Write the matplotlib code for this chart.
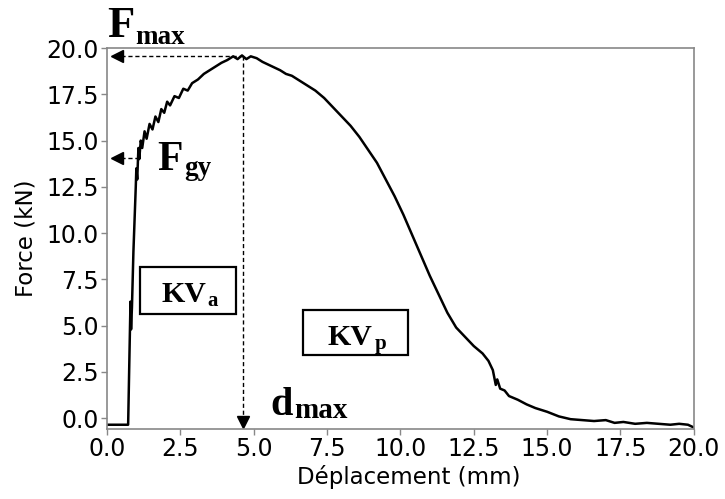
import matplotlib
matplotlib.use("Agg")
import matplotlib.pyplot as plt
from matplotlib.patches import Rectangle

# ---- data ----
disp = [0.0, 0.72, 0.76, 0.80, 0.82, 0.85, 0.90, 0.98, 1.00, 1.03, 1.07, 1.10, 1.15, 1.20,
        1.28, 1.35, 1.45, 1.55, 1.65, 1.75, 1.85, 1.95, 2.05, 2.15, 2.30, 2.45, 2.60, 2.75,
        2.90, 3.10, 3.30, 3.50, 3.70, 3.90, 4.10, 4.30, 4.45, 4.60, 4.75, 4.90, 5.10, 5.30,
        5.50, 5.70, 5.90, 6.10, 6.30, 6.50, 6.80, 7.10, 7.40, 7.70, 8.00, 8.30, 8.60, 8.90,
        9.20, 9.50, 9.80, 10.10, 10.40, 10.70, 11.00, 11.30, 11.60, 11.90, 12.20, 12.50,
        12.80, 13.00, 13.15, 13.25, 13.30, 13.40, 13.55, 13.70, 14.00, 14.30, 14.60, 15.00,
        15.40, 15.80, 16.20, 16.60, 17.00, 17.30, 17.60, 18.00, 18.40, 18.80, 19.20, 19.50,
        19.80, 20.00]
force = [-0.35, -0.35, 3.0, 6.3, 4.8, 6.0, 9.0, 12.5, 13.5, 12.9, 14.6, 14.0, 15.0, 14.6,
         15.5, 15.1, 15.9, 15.6, 16.3, 16.0, 16.7, 16.5, 17.1, 16.9, 17.4, 17.3, 17.8, 17.7,
         18.1, 18.3, 18.6, 18.8, 19.0, 19.2, 19.35, 19.55, 19.4, 19.6, 19.4, 19.55, 19.45, 19.25,
         19.1, 18.95, 18.8, 18.6, 18.5, 18.3, 18.0, 17.7, 17.3, 16.8, 16.3, 15.8, 15.2, 14.5,
         13.8, 12.9, 12.0, 11.0, 9.9, 8.8, 7.7, 6.7, 5.7, 4.9, 4.4, 3.9,
         3.5, 3.1, 2.6, 1.8, 2.1, 1.6, 1.5, 1.2, 1.0, 0.75, 0.55, 0.35,
         0.1, -0.05, -0.1, -0.15, -0.1, -0.25, -0.2, -0.3, -0.25, -0.3, -0.35, -0.3,
         -0.35, -0.5]

f_max = 19.55
d_max = 4.63
f_gy = 14.05
x_ticks = [0.0, 2.5, 5.0, 7.5, 10.0, 12.5, 15.0, 17.5, 20.0]
y_ticks = [0.0, 2.5, 5.0, 7.5, 10.0, 12.5, 15.0, 17.5, 20.0]

W, H = 725, 499
fig = plt.figure(figsize=(W / 100, H / 100), dpi=100)
ax = fig.add_axes([0.1476, 0.1403, 0.8094, 0.7635])

ax.plot(disp, force, color='black', lw=1.8)

ax.set_xlim(0, 20)
ax.set_ylim(-0.58, 20)
ax.set_xticks(x_ticks)
ax.set_yticks(y_ticks)
ax.set_xticklabels([f"{v:.1f}" for v in x_ticks])
ax.set_yticklabels([f"{v:.1f}" for v in y_ticks])
ax.tick_params(labelsize=17, color='#888888', length=4, width=1, pad=2)
for s in ax.spines.values():
    s.set_color('#888888')
    s.set_linewidth(1.2)
ax.set_xlabel("Déplacement (mm)", fontsize=16.5, labelpad=3)
ax.set_ylabel("Force (kN)", fontsize=16.5, labelpad=6)
ax.xaxis.label.set_x(0.514)

dash = (0, (3, 2))
# Fmax arrow
ax.plot([0.25, d_max], [f_max, f_max], color='black', lw=1, linestyle=dash)
ax.plot([0.35], [f_max], marker='<', color='black', markersize=8)
# Fgy arrow
ax.plot([0.25, 1.15], [f_gy, f_gy], color='black', lw=1, linestyle=dash)
ax.plot([0.35], [f_gy], marker='<', color='black', markersize=8)
# dmax arrow
ax.plot([d_max, d_max], [f_max, -0.1], color='black', lw=1, linestyle=dash)
ax.plot([d_max], [-0.2], marker='v', color='black', markersize=8)


def label(px, py, s, size):
    return fig.text(px / W, 1 - py / H, s, fontsize=size, family='Liberation Serif',
                    fontweight='bold', ha='left', va='baseline')


def sub(base, s, size, dy):
    # subscript placed right after the base text; baseline dy points above
    # the base text's bounding-box bottom
    return ax.annotate(s, xy=(1, 0), xycoords=base, xytext=(1, dy),
                       textcoords='offset points', fontsize=size,
                       family='Liberation Serif', fontweight='bold',
                       ha='left', va='baseline')


fF = label(107, 37, "F", 32)
sub(fF, "max", 19.5, 1.2)
gF = label(157, 170, "F", 30)
sub(gF, "gy", 19.5, 2.9)
dd = label(270, 415, "d", 29)
sub(dd, "max", 21, 4.1)

ax.add_patch(Rectangle((1.12, 5.65), 3.27, 2.5, fill=False, edgecolor='black', lw=1.6))
ka = label(161, 302, "KV", 21.5)
sub(ka, "a", 15, 1.1)
ax.add_patch(Rectangle((6.68, 3.43), 3.58, 2.44, fill=False, edgecolor='black', lw=1.6))
kp = label(328, 345, "KV", 21.5)
sub(kp, "p", 15, 1.1)

fig.savefig("out.png", dpi=100)
